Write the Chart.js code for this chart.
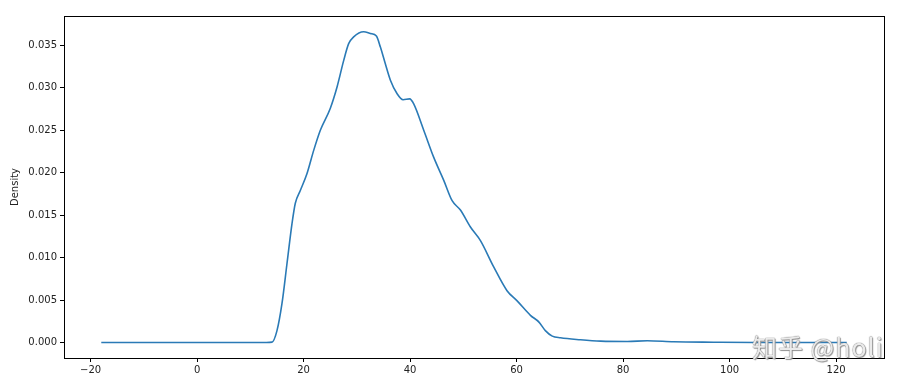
<!DOCTYPE html>
<html>
<head>
<meta charset="utf-8">
<script src="https://cdn.jsdelivr.net/npm/chart.js@4"></script>
<style>
  html, body { margin: 0; padding: 0; background: #fff; }
  #wrap { position: relative; width: 911px; height: 387px; }
  #wm { position: absolute; left: 752px; top: 328px; font-family: "Noto Sans CJK SC", "DejaVu Sans", sans-serif;
        font-size: 25px; color: rgba(255,255,255,0.85); white-space: nowrap; letter-spacing: 1px;
        text-shadow: 0 0 1px #777, 0 0 1px #777, 1px 1px 1px #999; }
</style>
</head>
<body>
<div id="wrap">
<canvas id="c" width="911" height="387"></canvas>
<div id="wm">知乎 @holi</div>
</div>
<script>
const xValues = [-18, 0, 13, 14.06, 15.0, 15.94, 16.88, 17.82, 18.44, 19.38, 20.64, 21.88, 23.14, 25.02, 26.28, 27.52, 28.46, 29.40, 31.28, 32.54, 33.67, 34.42, 35.36, 36.30, 37.56, 38.68, 39.92, 40.68, 42.56, 44.44, 46.32, 47.89, 49.45, 51.33, 53.21, 55.7, 58.2, 60.1, 62.6, 64.2, 65.4, 66.7, 68.25, 72.0, 75.8, 80.8, 84.55, 89.5, 97, 105, 122];
const densityValues = [0, 0, 0, 0.00004, 0.0014, 0.0046, 0.0093, 0.0140, 0.0164, 0.0179, 0.0199, 0.0226, 0.0250, 0.0276, 0.0301, 0.0332, 0.0352, 0.0360, 0.0366, 0.0364, 0.0361, 0.0348, 0.0328, 0.0309, 0.0293, 0.0286, 0.0287, 0.0281, 0.0250, 0.0218, 0.0191, 0.0167, 0.0156, 0.0136, 0.0120, 0.0089, 0.0061, 0.0049, 0.0032, 0.0024, 0.0014, 0.00075, 0.00055, 0.00032, 0.00016, 0.00012, 0.0002, 0.00008, 0.00003, 0, 0];
const xTicks = [-20, 0, 20, 40, 60, 80, 100, 120];
const yTicks = [0, 0.005, 0.010, 0.015, 0.020, 0.025, 0.030, 0.035];
const yTitle = "Density";

const xMinD = Math.min(...xValues), xMaxD = Math.max(...xValues);
const yMinD = Math.min(...densityValues), yMaxD = Math.max(...densityValues);
const xm = 0.05 * (xMaxD - xMinD), ym = 0.05 * (yMaxD - yMinD);

const font = { family: "DejaVu Sans", size: 10 };
const boxPlugin = {
  id: 'box',
  afterDraw(chart) {
    const a = chart.chartArea, ctx = chart.ctx;
    ctx.save();
    ctx.strokeStyle = '#000';
    ctx.lineWidth = 1;
    ctx.strokeRect(Math.round(a.left) + 0.5, Math.round(a.top) + 0.5, Math.round(a.right - a.left), Math.round(a.bottom - a.top));
    ctx.restore();
  }
};

new Chart(document.getElementById('c'), {
  type: 'line',
  data: {
    datasets: [{
      data: xValues.map((x, i) => ({ x: x, y: densityValues[i] })),
      borderColor: '#2a7ab6',
      borderWidth: 1.6,
      pointRadius: 0,
      fill: false,
      cubicInterpolationMode: 'monotone'
    }]
  },
  options: {
    responsive: false,
    animation: false,
    devicePixelRatio: 1,
    layout: { padding: { top: 16, right: 27, left: 0, bottom: 0 } },
    plugins: { legend: { display: false }, tooltip: { enabled: false } },
    scales: {
      x: {
        type: 'linear',
        min: xMinD - xm,
        max: xMaxD + xm,
        afterBuildTicks(scale) { scale.ticks = xTicks.map(v => ({ value: v })); },
        afterFit(scale) { scale.height = 29; },
        grid: { drawOnChartArea: false, tickLength: 4, tickColor: '#000', tickWidth: 1 },
        border: { display: false },
        ticks: { font: font, color: '#222', padding: 2, maxRotation: 0,
                 callback: v => String(v).replace('-', '\u2212') }
      },
      y: {
        min: yMinD - ym,
        max: yMaxD + ym + 0.00003,
        afterBuildTicks(scale) { scale.ticks = yTicks.map(v => ({ value: v })); },
        afterFit(scale) { scale.width = 64; },
        grid: { drawOnChartArea: false, tickLength: 4, tickColor: '#000', tickWidth: 1 },
        border: { display: false },
        title: { display: true, text: yTitle, font: font, color: '#222', padding: { top: 9, bottom: 0 } },
        ticks: { font: font, color: '#222', padding: 3, callback: v => v.toFixed(3) }
      }
    }
  },
  plugins: [boxPlugin]
});
</script>
</body>
</html>
